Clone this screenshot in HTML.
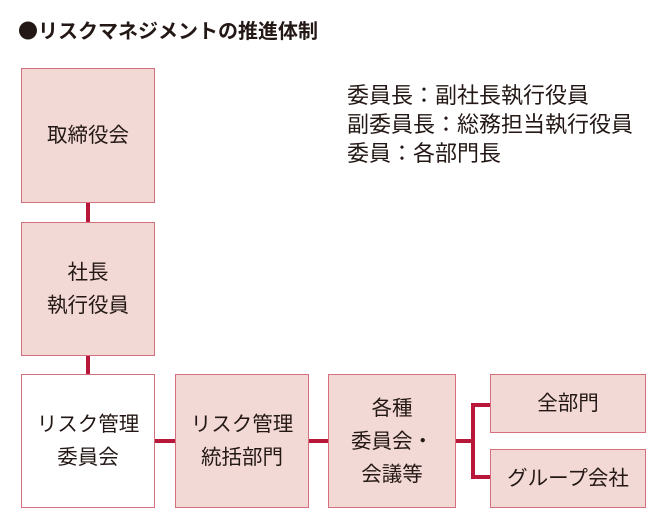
<!DOCTYPE html>
<html><head><meta charset="utf-8"><style>
body{margin:0;width:670px;height:526px;background:#fff;position:relative;font-family:"Liberation Sans","Noto Sans CJK JP",sans-serif;color:#231815;overflow:hidden}
.b{position:absolute;box-sizing:border-box;border:1.5px solid #d4707e;background:#f3d9d5;display:flex;align-items:center;justify-content:center;text-align:center;font-size:20.5px;line-height:33px}
.l{position:absolute;background:#b8173a}
.t{position:absolute;font-size:22px;line-height:29px}
</style></head><body>
<div class="t" style="left:18px;top:17px;font-weight:bold;font-size:20px;line-height:26px"><span style="font-family:'Noto Sans CJK JP',sans-serif">●</span>リスクマネジメントの推進体制</div>
<div class="t" style="left:347px;top:81px">委員長：副社長執行役員<br>副委員長：総務担当執行役員<br>委員：各部門長</div>
<div class="l" style="left:86px;top:203px;width:4px;height:20px"></div>
<div class="l" style="left:86px;top:356px;width:4px;height:19px"></div>
<div class="l" style="left:155px;top:439px;width:20px;height:4px"></div>
<div class="l" style="left:309px;top:439px;width:20px;height:4px"></div>
<div class="l" style="left:455px;top:439px;width:18px;height:4px"></div>
<div class="l" style="left:471px;top:403px;width:4px;height:76px"></div>
<div class="l" style="left:471px;top:403px;width:20px;height:4px"></div>
<div class="l" style="left:471px;top:475px;width:20px;height:4px"></div>
<div class="b" style="left:21px;top:68px;width:134px;height:135px">取締役会</div>
<div class="b" style="left:21px;top:222px;width:134px;height:134px">社長<br>執行役員</div>
<div class="b" style="left:21px;top:374px;width:134px;height:134px;background:#fff">リスク管理<br>委員会</div>
<div class="b" style="left:175px;top:374px;width:134px;height:134px">リスク管理<br>統括部門</div>
<div class="b" style="left:328px;top:374px;width:128px;height:134px">各種<br>委員会・<br>会議等</div>
<div class="b" style="left:490px;top:374px;width:156px;height:59px">全部門</div>
<div class="b" style="left:490px;top:449px;width:156px;height:59px">グループ会社</div>
</body></html>
